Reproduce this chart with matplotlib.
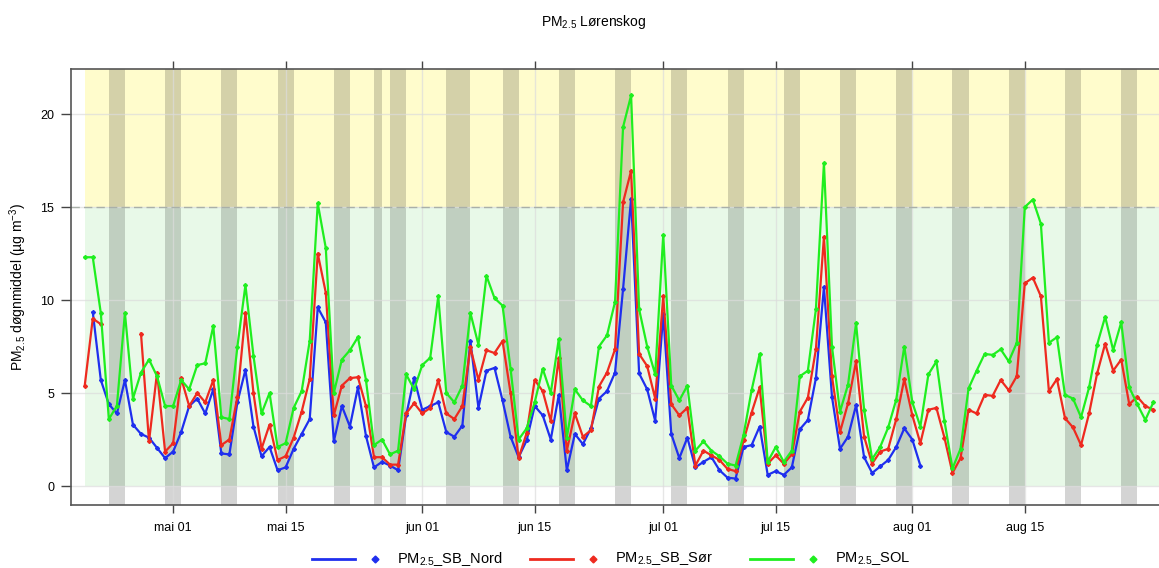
import matplotlib
matplotlib.use("Agg")
import matplotlib.pyplot as plt
from matplotlib.lines import Line2D
import numpy as np
import pandas as pd

plt.rcParams["font.family"] = ["Liberation Sans", "DejaVu Sans"]
plt.rcParams["mathtext.default"] = "regular"

nan = np.nan

# daily means from 2022-04-20
START = "2022-04-20"

pm_nord = [
    nan, 9.35, 5.7, 4.4, 3.9, 5.7, 3.3, 2.8, 2.6, 2.05,
    1.5, 1.85, 2.9, 4.3, 4.7, 3.9, 5.2, 1.75, 1.7, 4.5,
    6.25, 3.2, 1.6, 2.1, 0.85, 1.0, 2.0, 2.8, 3.6, 9.6,
    8.8, 2.4, 4.3, 3.2, 5.3, 2.7, 1.0, 1.3, 1.1, 0.85,
    3.8, 5.8, 4.1, 4.3, 4.5, 2.9, 2.65, 3.25, 7.8, 4.2,
    6.2, 6.35, 4.6, 2.65, 1.55, 2.45, 4.3, 3.8, 2.5, 4.9,
    0.85, 2.8, 2.25, 3.1, 4.7, 5.1, 6.1, 10.6, 15.45, 6.05,
    5.2, 3.5, 9.25, 2.8, 1.5, 2.6, 1.0, 1.3, 1.55, 0.85,
    0.45, 0.4, 2.1, 2.2, 3.2, 0.6, 0.8, 0.6, 1.0, 3.05,
    3.55, 5.8, 10.7, 4.8, 2.0, 2.65, 4.35, 1.55, 0.7, 1.05,
    1.4, 2.1, 3.1, 2.5, 1.1,
]

pm_sor = [
    5.4, 9.0, 8.7, nan, nan, nan, nan, 8.2, 2.4, 6.1,
    1.85, 2.3, 5.8, 4.3, 5.0, 4.5, 5.7, 2.2, 2.5, 4.8,
    9.3, 5.0, 2.0, 3.3, 1.4, 1.6, 2.6, 4.0, 5.75, 12.5,
    10.4, 3.8, 5.4, 5.8, 5.85, 4.3, 1.55, 1.55, 1.15, 1.15,
    3.9, 4.45, 3.9, 4.2, 5.7, 3.9, 3.6, 4.3, 7.45, 5.7,
    7.3, 7.15, 7.8, 5.0, 1.5, 2.85, 5.7, 5.1, 3.5, 6.9,
    1.9, 3.9, 2.65, 3.0, 5.35, 6.1, 7.35, 15.25, 16.95, 7.1,
    6.45, 4.7, 10.2, 4.4, 3.8, 4.2, 1.1, 1.9, 1.65, 1.4,
    0.92, 0.8, 2.45, 3.95, 5.3, 1.2, 1.65, 1.2, 1.7, 4.0,
    4.75, 7.35, 13.4, 5.9, 2.9, 4.45, 6.7, 2.65, 1.2, 1.85,
    2.0, 3.6, 5.75, 3.8, 2.3, 4.1, 4.2, 2.6, 0.7, 1.5,
    4.1, 3.9, 4.9, 4.85, 5.7, 5.15, 5.9, 10.9, 11.2, 10.2,
    5.1, 5.75, 3.65, 3.15, 2.2, 3.9, 6.05, 7.65, 6.2, 6.8,
    4.4, 4.8, 4.3, 4.1,
]

pm_sol = [
    12.3, 12.3, 9.3, 3.6, 4.3, 9.3, 4.7, 6.1, 6.8, 5.9,
    4.3, 4.3, 5.7, 5.2, 6.5, 6.6, 8.6, 3.7, 3.6, 7.5,
    10.8, 7.0, 3.9, 5.0, 2.1, 2.3, 4.2, 5.1, 7.8, 15.2,
    12.8, 5.0, 6.8, 7.3, 8.0, 5.7, 2.2, 2.5, 1.7, 1.9,
    6.0, 5.2, 6.5, 6.9, 10.2, 5.0, 4.5, 5.4, 9.3, 7.6,
    11.3, 10.1, 9.7, 6.3, 2.5, 3.1, 4.5, 6.3, 5.0, 7.9,
    2.6, 5.2, 4.6, 4.3, 7.5, 8.1, 9.9, 19.3, 21.0, 9.5,
    7.5, 6.0, 13.5, 5.4, 4.6, 5.4, 1.9, 2.4, 1.9, 1.6,
    1.2, 1.1, 2.75, 5.15, 7.1, 1.3, 2.1, 1.3, 1.9, 5.9,
    6.2, 9.5, 17.35, 7.5, 4.0, 5.45, 8.75, 4.1, 1.45, 2.1,
    3.15, 4.65, 7.5, 4.5, 3.2, 6.0, 6.7, 3.5, 0.95, 2.0,
    5.25, 6.2, 7.1, 7.05, 7.35, 6.7, 7.7, 15.0, 15.4, 14.1,
    7.7, 8.0, 4.9, 4.7, 3.7, 5.3, 7.6, 9.1, 7.3, 8.8,
    5.3, 4.4, 3.55, 4.5,
]

LIMIT = 15
HOLIDAYS = ["2022-05-26", "2022-06-06"]

TICK_DATES = ["2022-05-01", "2022-05-15", "2022-06-01", "2022-06-15",
              "2022-07-01", "2022-07-15", "2022-08-01", "2022-08-15"]
TICK_LABELS = ["mai 01", "mai 15", "jun 01", "jun 15",
               "jul 01", "jul 15", "aug 01", "aug 15"]
Y_TICKS = [0, 5, 10, 15, 20]

SERIES = ["PM$_{2.5}$_SB_Nord", "PM$_{2.5}$_SB_Sør", "PM$_{2.5}$_SOL"]
COLORS = ["#1f2fee", "#ee2a1f", "#1fee1f"]

dates = pd.date_range(START, periods=len(pm_sol), freq="D")
nord = np.full(len(dates), np.nan)
nord[:len(pm_nord)] = pm_nord
values = [nord, np.array(pm_sor), np.array(pm_sol)]

W, H = 1159, 568
fig = plt.figure(figsize=(W / 100, H / 100), dpi=100)
ax = fig.add_axes([71 / W, 1 - 505 / H, (1163 - 71) / W, (505 - 69) / H])

x0 = dates[0] - pd.Timedelta(days=1.71)
x1 = dates[0] + pd.Timedelta(days=134.2)
y0, y1 = -1.02, 22.42
ax.set_xlim(x0, x1)
ax.set_ylim(y0, y1)

# limit zones
ax.fill_between([dates[0], x1], LIMIT, y1, color="#fffccc", lw=0, zorder=0.1)
ax.fill_between([dates[0], x1], 0, LIMIT, color="#e8f9e8", lw=0, zorder=0.1)

# weekends and holidays
days = pd.date_range(x0.normalize(), x1, freq="D")
hol = pd.to_datetime(HOLIDAYS)
for d in days:
    if d.weekday() >= 5 or d in hol:
        ax.axvspan(d, d + pd.Timedelta(days=1), color="black", alpha=0.17,
                   lw=0, zorder=0.2)

ax.set_axisbelow(True)
ax.grid(True, color="#dcdcdc", lw=1, alpha=0.7)
ax.axhline(LIMIT, color="#a9b0a9", lw=1, ls=(0, (6, 3)), zorder=0.6)

for vals, col in zip(values, COLORS):
    ax.plot(dates, vals, color=col, lw=1.6, marker="D", ms=2.0, zorder=3)

ax.set_xticks(pd.to_datetime(TICK_DATES))
ax.set_xticklabels(TICK_LABELS)
ax.set_yticks(Y_TICKS)
ax.tick_params(axis="x", top=True, bottom=True, direction="out", length=6,
               width=1, color="#444444", labelsize=9, pad=6)
ax.tick_params(axis="y", left=True, right=False, direction="out", length=7,
               width=1, color="#444444", labelsize=9, pad=5)
for spine in ax.spines.values():
    spine.set_color("#555555")
    spine.set_linewidth(1.2)

fig.text(594 / W, 1 - 22 / H, "PM$_{2.5}$ Lørenskog", ha="center", va="center",
         fontsize=10)
fig.text(18 / W, 1 - 287 / H, "PM$_{2.5}$ døgnmiddel (µg m$^{-3}$)",
         rotation=90, ha="center", va="center", fontsize=10)

# legend keys along the bottom
key_y = 1 - 559 / H
key_x = [312, 530, 750]
for kx, label, col in zip(key_x, SERIES, COLORS):
    fig.add_artist(Line2D([kx / W, (kx + 43) / W], [key_y, key_y], color=col,
                          lw=2, transform=fig.transFigure))
    fig.add_artist(Line2D([(kx + 63) / W], [key_y], color=col, marker="D",
                          ms=3.5, lw=0, transform=fig.transFigure))
    fig.text((kx + 85) / W, key_y, label, ha="left", va="center", fontsize=10.5)

fig.savefig("out.png", dpi=100)
